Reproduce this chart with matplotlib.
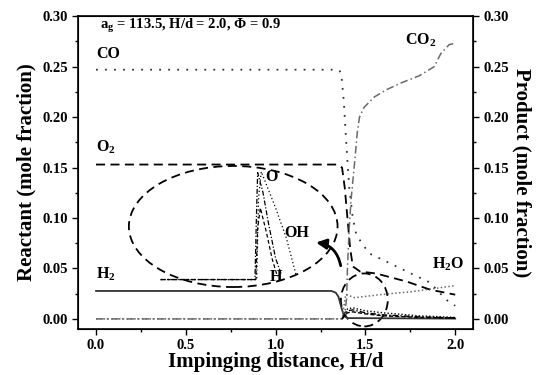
import matplotlib
matplotlib.use("Agg")
import matplotlib.pyplot as plt
from matplotlib.patches import Ellipse

plt.rcParams['font.family'] = ['Liberation Serif', 'DejaVu Serif']
plt.rcParams['font.weight'] = 'bold'
plt.rcParams['axes.labelweight'] = 'bold'
plt.rcParams['mathtext.fontset'] = 'custom'
plt.rcParams['mathtext.rm'] = 'Liberation Serif:bold'
plt.rcParams['mathtext.it'] = 'Liberation Serif:italic:bold'
plt.rcParams['mathtext.bf'] = 'Liberation Serif:bold'

# --- reactants ---
co_x = [0, 1.35, 1.365, 1.38, 1.395, 1.41, 1.43, 1.45, 1.52, 1.615, 1.73, 1.86, 1.95, 2.0]
co_y = [0.247, 0.247, 0.244, 0.215, 0.17, 0.13, 0.10, 0.083, 0.065, 0.057, 0.047, 0.036, 0.019, 0.013]

o2_x = [0, 1.345, 1.37, 1.385, 1.40, 1.415, 1.43, 1.47, 1.56, 1.73, 1.86, 2.0]
o2_y = [0.153, 0.153, 0.150, 0.13, 0.10, 0.07, 0.052, 0.047, 0.045, 0.037, 0.029, 0.024]

h2_x = [0, 1.31, 1.335, 1.35, 1.365, 1.38, 1.40, 2.0]
h2_y = [0.0277, 0.0277, 0.026, 0.022, 0.012, 0.003, 0.0008, 0.0003]

# --- products ---
co2_x = [0, 1.37, 1.385, 1.395, 1.40, 1.41, 1.42, 1.44, 1.455, 1.467, 1.494, 1.55, 1.615, 1.7, 1.8, 1.883, 1.92, 1.967, 2.0]
co2_y = [0, 0, 0.005, 0.02, 0.05, 0.09, 0.118, 0.155, 0.185, 0.20, 0.21, 0.22, 0.227, 0.234, 0.241, 0.25, 0.263, 0.272, 0.273]

h2o_x = [0, 1.37, 1.38, 1.39, 1.41, 1.44, 1.58, 1.76, 2.0]
h2o_y = [0, 0, 0.012, 0.024, 0.023, 0.021, 0.024, 0.027, 0.033]

# --- radicals (actual scale) ---
rad_x = [1.37, 1.40, 1.43, 1.5, 1.6, 1.8, 2.0]
o_y = [0, 0.008, 0.009, 0.006, 0.004, 0.002, 0.001]
h_y = [0, 0.006, 0.007, 0.005, 0.003, 0.0015, 0.0008]
oh_y = [0, 0.010, 0.011, 0.008, 0.006, 0.003, 0.0015]

# --- radicals (magnified view inside ellipse) ---
o_in_x = [0.36, 0.885, 0.893, 0.90, 0.93, 0.96, 1.0, 1.03]
o_in_y = [0.039, 0.039, 0.10, 0.145, 0.125, 0.095, 0.06, 0.045]
h_in_x = [0.36, 0.89, 0.90, 0.915, 0.95, 0.98, 1.01]
h_in_y = [0.039, 0.039, 0.09, 0.11, 0.085, 0.06, 0.042]
oh_in_x = [0.36, 0.895, 0.905, 0.92, 1.0, 1.06, 1.115]
oh_in_y = [0.039, 0.039, 0.12, 0.146, 0.11, 0.08, 0.043]

fig = plt.figure(figsize=(5.42, 3.75), dpi=100)
ax = fig.add_axes([0.144, 0.1227, 0.729, 0.834])

ax.plot(co_x, co_y, color='#333333', lw=1.3, ls=(0, (1, 4)))
ax.plot(o2_x, o2_y, color='black', lw=1.3, ls=(0, (5, 3)))
ax.plot(h2_x, h2_y, color='#333333', lw=1.3, ls='-')
ax.plot(co2_x, co2_y, color='#6a6a6a', lw=1.1, ls=(0, (5, 2, 1, 2)))
ax.plot(h2o_x, h2o_y, color='#6a6a6a', lw=1.1, ls=(0, (1, 1.5)))

ax.plot(rad_x, o_y, color='black', lw=1.0, ls=(0, (4, 1.5, 1, 1.5)))
ax.plot(rad_x, h_y, color='black', lw=1.0, ls=(0, (3, 1.5)))
ax.plot(rad_x, oh_y, color='black', lw=1.0, ls=(0, (1, 1.5)))

ax.plot(o_in_x, o_in_y, color='black', lw=0.9, ls=(0, (4, 1.5, 1, 1.5)))
ax.plot(h_in_x, h_in_y, color='black', lw=0.9, ls=(0, (3, 2)))
ax.plot(oh_in_x, oh_in_y, color='black', lw=0.9, ls=(0, (1, 2)))

# magnification ellipses and arrow
ax.add_patch(Ellipse((0.764, 0.0916), 1.162, 0.120, fill=False, ec='black',
                     lw=1.3, ls=(0, (5, 3))))
ax.add_patch(Ellipse((1.494, 0.0188), 0.261, 0.0525, fill=False, ec='black',
                     lw=1.3, ls=(0, (5, 3))))
ax.annotate('', xy=(1.21, 0.076), xytext=(1.365, 0.050),
            arrowprops=dict(arrowstyle='-|>,head_length=0.6,head_width=0.3',
                            color='black', lw=2.0,
                            connectionstyle='arc3,rad=0.4'))

fs = 11.5
ax.text(0.0, 0.255, 'CO', fontsize=fs, va='bottom')
ax.text(0.0, 0.161, 'O$_2$', fontsize=fs, va='bottom')
ax.text(0.0, 0.036, 'H$_2$', fontsize=fs, va='bottom')
ax.text(1.72, 0.268, 'CO$_2$', fontsize=fs, va='bottom')
ax.text(1.87, 0.045, 'H$_2$O', fontsize=fs, va='bottom')
ax.text(0.945, 0.133, 'O', fontsize=fs, va='bottom')
ax.text(1.05, 0.077, 'OH', fontsize=fs, va='bottom')
ax.text(0.965, 0.034, 'H', fontsize=fs, va='bottom')
ax.text(0.02, 0.281, r'a$_\mathrm{g}$ = 113.5, H/d = 2.0, $\Phi$ = 0.9', fontsize=10.5, va='bottom')

ax.set_xlim(-0.1, 2.1)
ax.set_ylim(-0.01, 0.30)
ax.set_xticks([0.0, 0.5, 1.0, 1.5, 2.0])
ax.set_xticks([0.25, 0.75, 1.25, 1.75], minor=True)
yt = [0.0, 0.05, 0.10, 0.15, 0.20, 0.25, 0.30]
ax.set_yticks(yt)
ax.set_yticks([0.025, 0.075, 0.125, 0.175, 0.225, 0.275], minor=True)
ax.set_yticklabels([f'{v:.2f}' for v in yt])
ax.tick_params(which='both', direction='out', labelsize=10.5, width=1.0)
ax.tick_params(which='major', length=4)
ax.tick_params(which='minor', length=2.5)
for s in ax.spines.values():
    s.set_linewidth(1.2)

ax2 = ax.twinx()
ax2.set_ylim(ax.get_ylim())
ax2.set_yticks(yt)
ax2.set_yticks([0.025, 0.075, 0.125, 0.175, 0.225, 0.275], minor=True)
ax2.set_yticklabels([f'{v:.2f}' for v in yt])
ax2.tick_params(which='both', direction='out', labelsize=10.5, width=1.0)
ax2.tick_params(which='major', length=4)
ax2.tick_params(which='minor', length=2.5)

ax.set_xlabel('Impinging distance, H/d', fontsize=15, labelpad=0)
ax.set_ylabel('Reactant (mole fraction)', fontsize=15, labelpad=4)
ax2.set_ylabel('Product (mole fraction)', fontsize=15, rotation=270, labelpad=16)

fig.savefig('out.png', dpi=100)
